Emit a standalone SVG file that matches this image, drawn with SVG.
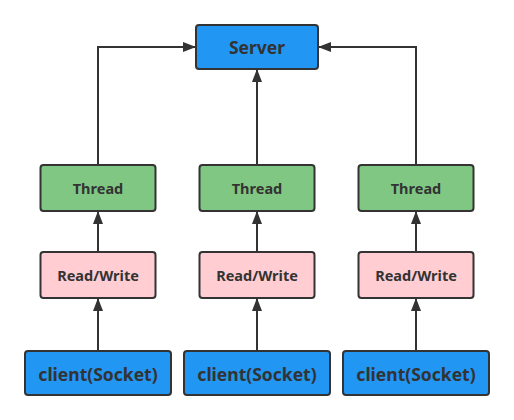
<svg xmlns="http://www.w3.org/2000/svg" width="514" height="420" viewBox="0 0 514 420">
<style>
.box{stroke:#333;stroke-width:2}
.blue{fill:#2196F3}
.green{fill:#81C784}
.pink{fill:#FFCDD2}
text{font-family:"Noto Sans","Open Sans",sans-serif;font-weight:bold;fill:#333;text-anchor:middle;dominant-baseline:central}
.big{font-size:17.5px}
.small{font-size:14.5px}
.conn{fill:none;stroke:#333;stroke-width:2}
</style>
<defs>
<marker id="arr" markerWidth="13" markerHeight="10" refX="13" refY="5" orient="auto" markerUnits="userSpaceOnUse">
<path d="M0,0 L13,5 L0,10 Z" fill="#333"/>
</marker>
</defs>
<rect width="514" height="420" fill="#fff"/>
<g id="connectors">
<path class="conn" d="M98,165 V47 H196" marker-end="url(#arr)"/>
<path class="conn" d="M257,165 V69" marker-end="url(#arr)"/>
<path class="conn" d="M416,165 V47 H318" marker-end="url(#arr)"/>
<path class="conn" d="M98,252 V211" marker-end="url(#arr)"/>
<path class="conn" d="M257,252 V211" marker-end="url(#arr)"/>
<path class="conn" d="M416,252 V211" marker-end="url(#arr)"/>
<path class="conn" d="M98,351 V298" marker-end="url(#arr)"/>
<path class="conn" d="M257,351 V298" marker-end="url(#arr)"/>
<path class="conn" d="M416,351 V298" marker-end="url(#arr)"/>
</g>
<g id="server"><rect class="box blue" x="196" y="25" width="122" height="44" rx="3"/><text class="big" x="257" y="47">Server</text></g>
<g id="thread1"><rect class="box green" x="40.5" y="165" width="115" height="46" rx="3"/><text class="small" x="98" y="188">Thread</text></g>
<g id="thread2"><rect class="box green" x="199.5" y="165" width="115" height="46" rx="3"/><text class="small" x="257" y="188">Thread</text></g>
<g id="thread3"><rect class="box green" x="358.5" y="165" width="115" height="46" rx="3"/><text class="small" x="416" y="188">Thread</text></g>
<g id="rw1"><rect class="box pink" x="40.5" y="252" width="115" height="46" rx="3"/><text class="small" x="98" y="275">Read/Write</text></g>
<g id="rw2"><rect class="box pink" x="199.5" y="252" width="115" height="46" rx="3"/><text class="small" x="257" y="275">Read/Write</text></g>
<g id="rw3"><rect class="box pink" x="358.5" y="252" width="115" height="46" rx="3"/><text class="small" x="416" y="275">Read/Write</text></g>
<g id="client1"><rect class="box blue" x="25" y="351" width="146" height="44" rx="3"/><text class="big" x="98" y="374">client(Socket)</text></g>
<g id="client2"><rect class="box blue" x="184" y="351" width="146" height="44" rx="3"/><text class="big" x="257" y="374">client(Socket)</text></g>
<g id="client3"><rect class="box blue" x="343" y="351" width="146" height="44" rx="3"/><text class="big" x="416" y="374">client(Socket)</text></g>
</svg>
